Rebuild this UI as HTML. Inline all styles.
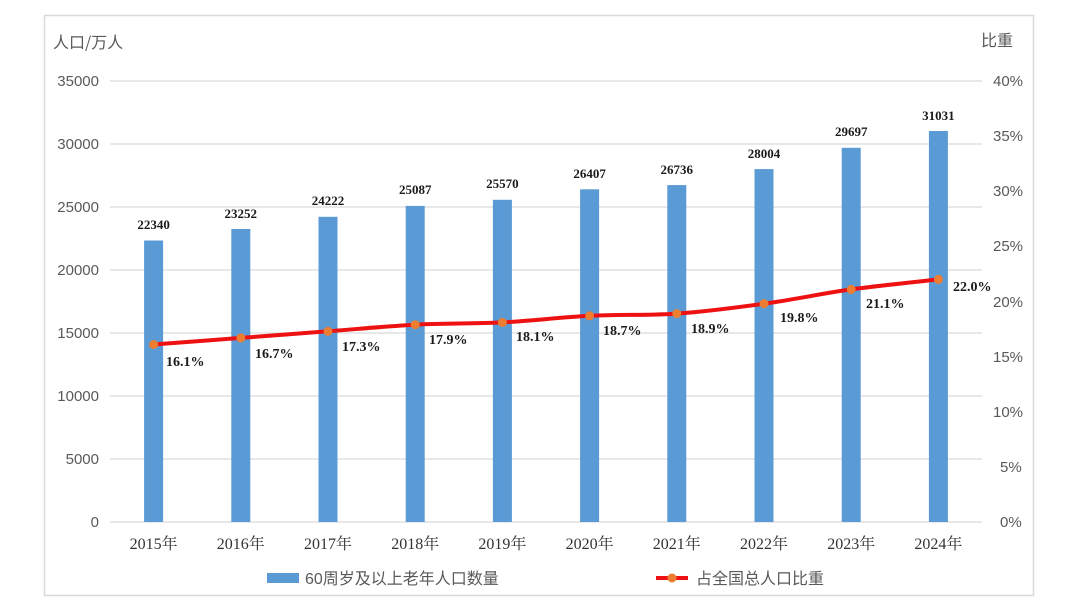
<!DOCTYPE html>
<html><head><meta charset="utf-8"><style>
html,body{margin:0;padding:0;background:#fff;}
svg{display:block;}
</style></head><body>
<svg width="1080" height="608" viewBox="0 0 1080 608" xmlns="http://www.w3.org/2000/svg">
<rect x="0" y="0" width="1080" height="608" fill="#fff"/>
<rect x="44.5" y="15.5" width="989" height="580" fill="#fff" stroke="#d9d9d9" stroke-width="1.5"/>
<g stroke="#d9d9d9" stroke-width="1.2">
<line x1="110" y1="81" x2="982" y2="81"/>
<line x1="110" y1="144" x2="982" y2="144"/>
<line x1="110" y1="207" x2="982" y2="207"/>
<line x1="110" y1="270" x2="982" y2="270"/>
<line x1="110" y1="333" x2="982" y2="333"/>
<line x1="110" y1="396" x2="982" y2="396"/>
<line x1="110" y1="459" x2="982" y2="459"/>
<line x1="110" y1="522" x2="982" y2="522"/>
</g>
<g font-family="Liberation Sans, Noto Sans CJK SC, sans-serif" font-size="15" fill="#595959">
<text x="53" y="48" font-size="16" font-family="Noto Sans CJK SC, sans-serif">人口/万人</text>
<text x="981" y="46" font-size="16" font-family="Noto Sans CJK SC, sans-serif">比重</text>
<g text-anchor="end">
<text x="99" y="86">35000</text>
<text x="99" y="149">30000</text>
<text x="99" y="212">25000</text>
<text x="99" y="275">20000</text>
<text x="99" y="338">15000</text>
<text x="99" y="401">10000</text>
<text x="99" y="464">5000</text>
<text x="99" y="527">0</text>
</g>
<g text-anchor="start">
<text x="993" y="86">40%</text>
<text x="993" y="141">35%</text>
<text x="993" y="196">30%</text>
<text x="993" y="251">25%</text>
<text x="993" y="307">20%</text>
<text x="993" y="362">15%</text>
<text x="993" y="417">10%</text>
<text x="1000" y="472">5%</text>
<text x="1000" y="527">0%</text>
</g>
</g>
<g fill="#5b9bd5">
<rect x="144.1" y="240.5" width="19" height="281.5"/>
<rect x="231.3" y="229.0" width="19" height="293.0"/>
<rect x="318.5" y="216.8" width="19" height="305.2"/>
<rect x="405.7" y="205.9" width="19" height="316.1"/>
<rect x="492.9" y="199.8" width="19" height="322.2"/>
<rect x="580.1" y="189.3" width="19" height="332.7"/>
<rect x="667.3" y="185.1" width="19" height="336.9"/>
<rect x="754.5" y="169.1" width="19" height="352.9"/>
<rect x="841.7" y="147.8" width="19" height="374.2"/>
<rect x="928.9" y="131.0" width="19" height="391.0"/>
</g>
<g font-family="Liberation Serif, serif" font-weight="bold" font-size="13" fill="#1a1a1a" text-anchor="middle">
<text x="153.6" y="229">22340</text>
<text x="240.8" y="218">23252</text>
<text x="328.0" y="205">24222</text>
<text x="415.2" y="194">25087</text>
<text x="502.4" y="188">25570</text>
<text x="589.6" y="178">26407</text>
<text x="676.8" y="174">26736</text>
<text x="764.0" y="158">28004</text>
<text x="851.2" y="136">29697</text>
<text x="938.4" y="120">31031</text>
</g>
<path d="M153.6,344.5 C168.1,343.4 211.7,340.1 240.8,337.9 C269.9,335.7 298.9,333.5 328.0,331.3 C357.1,329.1 386.1,326.2 415.2,324.7 C444.3,323.2 473.3,323.9 502.4,322.4 C531.5,320.9 560.5,317.3 589.6,315.8 C618.7,314.3 647.7,315.6 676.8,313.6 C705.9,311.6 734.9,307.7 764.0,303.7 C793.1,299.7 822.1,293.5 851.2,289.4 C880.3,285.4 923.9,281.1 938.4,279.4" fill="none" stroke="#ee1111" stroke-width="4" stroke-linejoin="round"/>
<g fill="#ed7d31">
<circle cx="153.6" cy="344.5" r="4.5"/>
<circle cx="240.8" cy="337.9" r="4.5"/>
<circle cx="328.0" cy="331.3" r="4.5"/>
<circle cx="415.2" cy="324.7" r="4.5"/>
<circle cx="502.4" cy="322.4" r="4.5"/>
<circle cx="589.6" cy="315.8" r="4.5"/>
<circle cx="676.8" cy="313.6" r="4.5"/>
<circle cx="764.0" cy="303.7" r="4.5"/>
<circle cx="851.2" cy="289.4" r="4.5"/>
<circle cx="938.4" cy="279.4" r="4.5"/>
</g>
<g font-family="Liberation Serif, serif" font-weight="bold" font-size="14" fill="#1a1a1a">
<text x="166" y="366">16.1%</text>
<text x="255" y="358">16.7%</text>
<text x="342" y="351">17.3%</text>
<text x="429" y="344">17.9%</text>
<text x="516" y="341">18.1%</text>
<text x="603" y="335">18.7%</text>
<text x="691" y="333">18.9%</text>
<text x="780" y="322">19.8%</text>
<text x="866" y="308">21.1%</text>
<text x="953" y="291">22.0%</text>
</g>
<g font-family="Liberation Serif, Noto Serif CJK SC, serif" font-size="16" fill="#333" text-anchor="middle">
<text x="153.6" y="549">2015年</text>
<text x="240.8" y="549">2016年</text>
<text x="328.0" y="549">2017年</text>
<text x="415.2" y="549">2018年</text>
<text x="502.4" y="549">2019年</text>
<text x="589.6" y="549">2020年</text>
<text x="676.8" y="549">2021年</text>
<text x="764.0" y="549">2022年</text>
<text x="851.2" y="549">2023年</text>
<text x="938.4" y="549">2024年</text>
</g>
<rect x="267" y="573" width="32" height="10" fill="#5b9bd5"/>
<text x="305" y="584" font-family="Liberation Sans, Noto Sans CJK SC, sans-serif" font-size="16" fill="#595959">60周岁及以上老年人口数量</text>
<line x1="656" y1="578" x2="688" y2="578" stroke="#ee1111" stroke-width="4"/>
<circle cx="672" cy="578" r="4.5" fill="#ed7d31"/>
<text x="696" y="584" font-family="Liberation Sans, Noto Sans CJK SC, sans-serif" font-size="16" fill="#595959">占全国总人口比重</text>
</svg>
</body></html>
